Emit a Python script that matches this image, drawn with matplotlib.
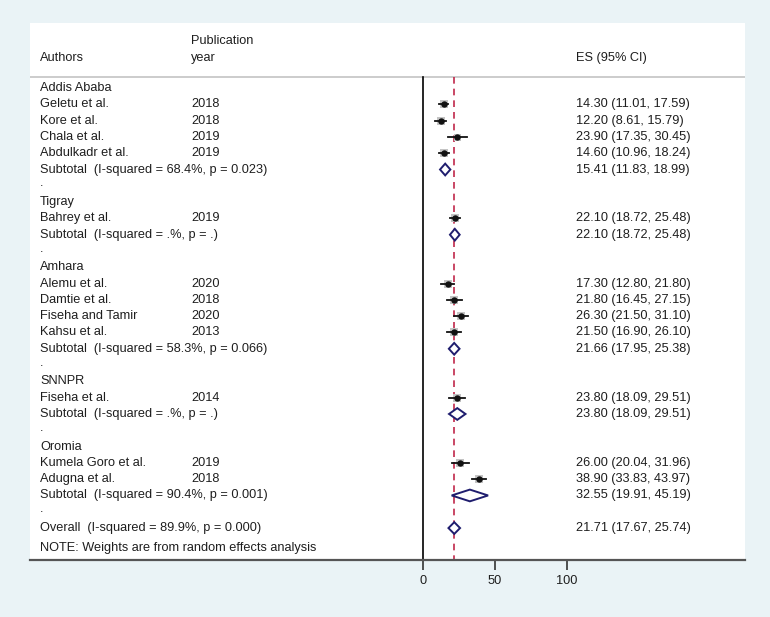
import matplotlib.pyplot as plt
from matplotlib.patches import Polygon

plt.rcParams["font.family"] = ["Liberation Sans", "DejaVu Sans"]

# Data
regions = ["Addis Ababa", "Tigray", "Amhara", "SNNPR", "Oromia"]
authors = ["Geletu et al.", "Kore et al.", "Chala et al.", "Abdulkadr et al.",
           "Bahrey et al.",
           "Alemu et al.", "Damtie et al.", "Fiseha and Tamir", "Kahsu et al.",
           "Fiseha et al.",
           "Kumela Goro et al.", "Adugna et al."]
years = ["2018", "2018", "2019", "2019", "2019", "2020", "2018", "2020", "2013",
         "2014", "2019", "2018"]
region_of = [0, 0, 0, 0, 1, 2, 2, 2, 2, 3, 4, 4]
es = [14.30, 12.20, 23.90, 14.60, 22.10, 17.30, 21.80, 26.30, 21.50, 23.80, 26.00, 38.90]
lo = [11.01, 8.61, 17.35, 10.96, 18.72, 12.80, 16.45, 21.50, 16.90, 18.09, 20.04, 33.83]
hi = [17.59, 15.79, 30.45, 18.24, 25.48, 21.80, 27.15, 31.10, 26.10, 29.51, 31.96, 43.97]
weights = [8.6, 8.8, 7.2, 8.7, 8.6, 8.3, 7.9, 8.3, 8.2, 7.8, 8.0, 8.4]

sub_es = [15.41, 22.10, 21.66, 23.80, 32.55]
sub_lo = [11.83, 18.72, 17.95, 18.09, 19.91]
sub_hi = [18.99, 25.48, 25.38, 29.51, 45.19]
sub_i2 = ["68.4", ".", "58.3", ".", "90.4"]
sub_p = ["0.023", ".", "0.066", ".", "0.001"]

overall = (21.71, 17.67, 25.74)
overall_i2, overall_p = "89.9", "0.000"
xticks = [0, 50, 100]

TXT = "#1e1e1e"
NAVY = "#1f1d6e"
FS = 9.2
X_AUTH, X_YEAR, X_ES = -266, -161, 106


def es_label(e, l, h):
    return f"{e:.2f} ({l:.2f}, {h:.2f})"


def diamond(ax, y, e, l, h, half=0.36):
    poly = Polygon([(l, y), (e, y - half), (h, y), (e, y + half)], closed=True,
                   facecolor="white", edgecolor=NAVY, linewidth=1.4, zorder=6)
    ax.add_patch(poly)


fig = plt.figure(figsize=(7.7, 6.17), dpi=100)
fig.patch.set_facecolor("#eaf3f6")
ax = fig.add_axes([30 / 770, 57 / 617, 715 / 770, 537 / 617])
ax.set_facecolor("white")
ax.set_xlim(-272.9, 223.6)
ax.set_ylim(28.96, -3.99)

for side in ["left", "right", "top"]:
    ax.spines[side].set_visible(False)
ax.spines["bottom"].set_color("#555555")
ax.spines["bottom"].set_linewidth(1.6)
ax.set_yticks([])
ax.set_xticks(xticks)
ax.tick_params(axis="x", length=7, width=1.2, color="#333333", labelsize=FS,
               labelcolor=TXT, pad=4)

# header
ax.text(X_YEAR, -2.88, "Publication", fontsize=FS, color=TXT, va="center")
ax.text(X_AUTH, -1.84, "Authors", fontsize=FS, color=TXT, va="center")
ax.text(X_YEAR, -1.84, "year", fontsize=FS, color=TXT, va="center")
ax.text(X_ES, -1.84, "ES (95% CI)", fontsize=FS, color=TXT, va="center")
ax.axhline(-0.67, color="#c8c8c8", linewidth=1.3)

# rows
row = 0
for g, name in enumerate(regions):
    ax.text(X_AUTH, row, name, fontsize=FS, color=TXT, va="center")
    row += 1
    for i in range(len(authors)):
        if region_of[i] != g:
            continue
        ax.text(X_AUTH, row, authors[i], fontsize=FS, color=TXT, va="center")
        ax.text(X_YEAR, row, years[i], fontsize=FS, color=TXT, va="center")
        ax.text(X_ES, row, es_label(es[i], lo[i], hi[i]), fontsize=FS, color=TXT,
                va="center")
        ax.plot(es[i], row, marker="s", markersize=weights[i] * 0.7, color="#c4c4c4",
                markeredgewidth=0, zorder=3)
        ax.plot([lo[i], hi[i]], [row, row], color="#111111", linewidth=1.3, zorder=4)
        ax.plot(es[i], row, marker="o", markersize=3.6, color="#111111", zorder=5)
        row += 1
    ax.text(X_AUTH, row, f"Subtotal  (I-squared = {sub_i2[g]}%, p = {sub_p[g]})",
            fontsize=FS, color=TXT, va="center")
    ax.text(X_ES, row, es_label(sub_es[g], sub_lo[g], sub_hi[g]), fontsize=FS,
            color=TXT, va="center")
    diamond(ax, row, sub_es[g], sub_lo[g], sub_hi[g])
    row += 1
    ax.text(X_AUTH, row - 0.15, ".", fontsize=FS, color=TXT, va="center")
    row += 1

ax.text(X_AUTH, row, f"Overall  (I-squared = {overall_i2}%, p = {overall_p})",
        fontsize=FS, color=TXT, va="center")
ax.text(X_ES, row, es_label(*overall), fontsize=FS, color=TXT, va="center")
diamond(ax, row, *overall)
ax.text(X_AUTH, row + 1.25, "NOTE: Weights are from random effects analysis",
        fontsize=FS, color=TXT, va="center")

ax.plot([0, 0], [-0.67, 28.96], color="black", linewidth=1.2, zorder=2)
ax.plot([overall[0], overall[0]], [-0.67, 28.96], color="#c0284a", linewidth=1.2,
        linestyle=(0, (4, 3)), zorder=2)

fig.savefig("out.png", dpi=100, facecolor=fig.get_facecolor())
